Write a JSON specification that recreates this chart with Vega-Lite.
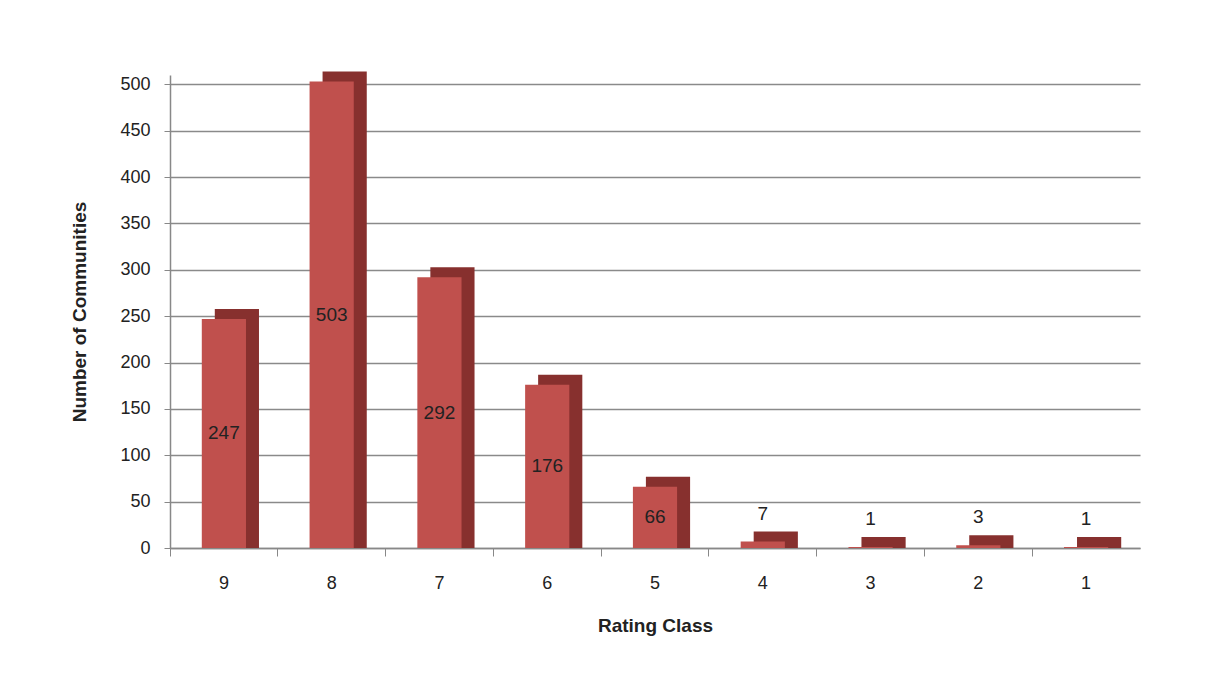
{
  "$schema": "https://vega.github.io/schema/vega-lite/v6.json",
  "width": 970,
  "height": 473,
  "autosize": {"type": "none"},
  "padding": {"left": 170, "top": 75, "right": 87, "bottom": 125},
  "background": "white",
  "config": {
    "view": {"stroke": null},
    "font": "Liberation Sans",
    "axis": {"labelFont": "Liberation Sans", "titleFont": "Liberation Sans"}
  },
  "data": {
    "values": [
      {"rating": "9", "count": 247},
      {"rating": "8", "count": 503},
      {"rating": "7", "count": 292},
      {"rating": "6", "count": 176},
      {"rating": "5", "count": 66},
      {"rating": "4", "count": 7},
      {"rating": "3", "count": 1},
      {"rating": "2", "count": 3},
      {"rating": "1", "count": 1}
    ]
  },
  "encoding": {
    "x": {
      "field": "rating",
      "type": "ordinal",
      "sort": ["9", "8", "7", "6", "5", "4", "3", "2", "1"],
      "scale": {"padding": 0},
      "axis": {
        "title": "Rating Class",
        "titleFontSize": 19,
        "titleFontWeight": "bold",
        "titleColor": "#222",
        "titlePadding": 24,
        "labelAngle": 0,
        "labelFontSize": 18,
        "labelColor": "#222",
        "labelPadding": 18,
        "bandPosition": 0,
        "domainColor": "#888",
        "domainWidth": 1.5,
        "tickColor": "#888",
        "tickSize": 8
      }
    }
  },
  "layer": [
    {
      "mark": {"type": "bar", "color": "#87302E", "width": {"band": 0.41}, "xOffset": 13, "yOffset": -10, "y2Offset": 0},
      "encoding": {
        "y": {
          "field": "count",
          "type": "quantitative",
          "scale": {"domain": [0, 510], "nice": false},
          "axis": {
            "title": "Number of Communities",
            "titleFontSize": 19,
            "titleFontWeight": "bold",
            "titleColor": "#222",
            "titlePadding": 30,
            "values": [0, 50, 100, 150, 200, 250, 300, 350, 400, 450, 500],
            "labelFontSize": 18,
            "labelColor": "#222",
            "labelPadding": 14,
            "grid": true,
            "gridColor": "#8a8a8a",
            "gridWidth": 1.6,
            "domainColor": "#888",
            "domainWidth": 1.5,
            "tickColor": "#888",
            "tickSize": 6
          }
        },
        "y2": {"datum": 0}
      }
    },
    {
      "mark": {"type": "bar", "color": "#C0504D", "width": {"band": 0.41}},
      "encoding": {
        "y": {"field": "count", "type": "quantitative"}
      }
    },
    {
      "transform": [
        {"calculate": "datum.count > 20 ? datum.count / 2 : datum.count + 30", "as": "labelY"}
      ],
      "mark": {"type": "text", "fontSize": 19, "color": "#222", "baseline": "middle"},
      "encoding": {
        "y": {"field": "labelY", "type": "quantitative"},
        "text": {"field": "count", "type": "quantitative"}
      }
    }
  ]
}
